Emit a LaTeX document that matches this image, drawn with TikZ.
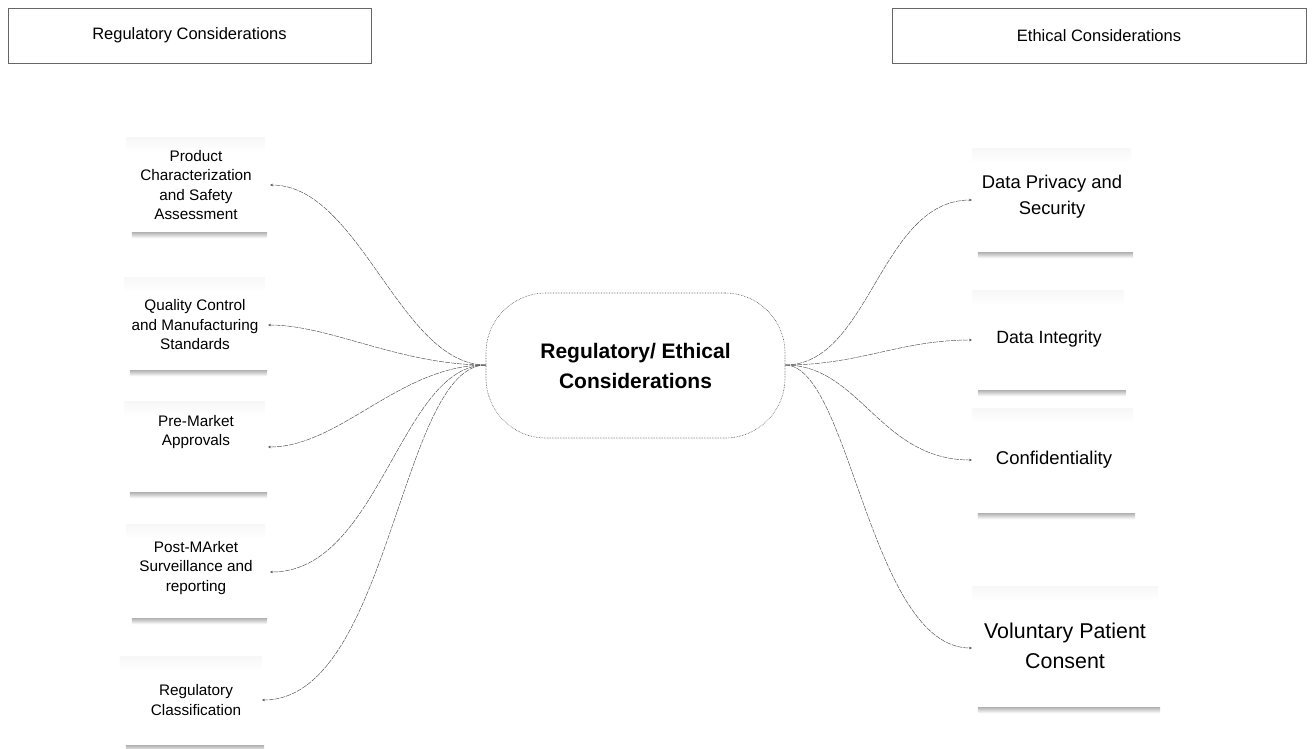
\documentclass[tikz,border=0pt]{standalone}
\usepackage{fontspec}
\setmainfont{Liberation Sans}
\usetikzlibrary{arrows.meta}
\begin{document}
\begin{tikzpicture}[x=1pt,y=-1pt,
  topbox/.style={draw=black!60, line width=0.6pt, fill=white, font=\fontsize{16.5}{19}\selectfont},
  card/.style={fill=white, inner sep=0pt},
  cardtext/.style={align=center, font=\fontsize{15.3}{19.5}\selectfont},
  link/.style={draw=black!70, line width=0.45pt, dash pattern=on 5pt off 1pt, -{Stealth[length=3pt,width=2.5pt]}},
]
\useasboundingbox (0,0) rectangle (1315,748);
\newcommand{\cardshadow}[1]{%
  \shade[top color=black!30, bottom color=white] ([xshift=6pt]#1.south west) rectangle ([xshift=2pt,yshift=-6pt]#1.south east);
  \shade[top color=black!3, bottom color=white] (#1.north west) rectangle ([yshift=-14pt]#1.north east);}
% top boxes
\node[topbox, minimum width=363pt, minimum height=55pt] (reg) at (189.5,35.5) {Regulatory Considerations};
\node[topbox, minimum width=414pt, minimum height=55pt] (eth) at (1099,35.5) {Ethical Considerations};
% center
\node[draw=black!70, densely dotted, line width=0.6pt, rounded corners=60pt, minimum width=299pt, minimum height=145pt, fill=white,
  align=center, font=\bfseries\fontsize{21}{30}\selectfont] (c) at (635.5,365.5) {Regulatory/ Ethical\\Considerations};
% left cards
\node[card, minimum width=139pt, minimum height=94pt] (l1) at (195.5,185) {};
\cardshadow{l1}
\node[cardtext] (t1) at (196,185) {Product\\Characterization\\and Safety\\Assessment};
\node[card, minimum width=141pt, minimum height=92pt] (l2) at (194.5,324) {};
\cardshadow{l2}
\node[cardtext] (t2) at (195,325) {Quality Control\\and Manufacturing\\Standards};
\node[card, minimum width=141pt, minimum height=90pt] (l3) at (194.5,447) {};
\cardshadow{l3}
\node[cardtext] (t3) at (196,432) {Pre-Market\\Approvals};
\node[card, minimum width=139pt, minimum height=93pt] (l4) at (195.5,571.5) {};
\cardshadow{l4}
\node[cardtext] (t4) at (196,568) {Post-MArket\\Surveillance and\\reporting};
\node[card, minimum width=142pt, minimum height=88pt] (l5) at (191,701) {};
\cardshadow{l5}
\node[cardtext] (t5) at (196,700) {Regulatory\\Classification};
% right cards
\node[card, minimum width=159pt, minimum height=103pt] (r1) at (1051.5,200.5) {};
\cardshadow{r1}
\node[align=center, font=\fontsize{18.4}{26}\selectfont] (s1) at (1052,197) {Data Privacy and\\Security};
\node[card, minimum width=152pt, minimum height=99pt] (r2) at (1048,340.5) {};
\cardshadow{r2}
\node[font=\fontsize{17.7}{22}\selectfont] (s2) at (1049,339) {Data Integrity};
\node[card, minimum width=161pt, minimum height=104pt] (r3) at (1052.5,461) {};
\cardshadow{r3}
\node[font=\fontsize{18.5}{22}\selectfont] (s3) at (1054,460) {Confidentiality};
\node[card, minimum width=186pt, minimum height=120pt] (r4) at (1065,647) {};
\cardshadow{r4}
\node[align=center, font=\fontsize{21.4}{30}\selectfont] (s4) at (1065,646) {Voluntary Patient\\Consent};
% anchor coordinates
\coordinate (cl) at (486,365);
\coordinate (cr) at (785,365);
\coordinate (a1) at (270,185);
\coordinate (a2) at (268,325);
\coordinate (a3) at (268,447);
\coordinate (a4) at (270,572);
\coordinate (a5) at (262,700);
\coordinate (b1) at (972,200);
\coordinate (b2) at (972,340);
\coordinate (b3) at (972,460);
\coordinate (b4) at (972,648);
% links
\draw[link] (cl) .. controls (400,365) and (360,185) .. (a1);
\draw[link] (cl) .. controls (400,365) and (330,325) .. (a2);
\draw[link] (cl) .. controls (400,365) and (340,447) .. (a3);
\draw[link] (cl) .. controls (400,365) and (380,572) .. (a4);
\draw[link] (cl) .. controls (400,365) and (390,700) .. (a5);
\draw[link] (cr) .. controls (870,365) and (880,200) .. (b1);
\draw[link] (cr) .. controls (860,365) and (900,340) .. (b2);
\draw[link] (cr) .. controls (860,365) and (880,460) .. (b3);
\draw[link] (cr) .. controls (850,365) and (870,648) .. (b4);
\end{tikzpicture}
\end{document}
